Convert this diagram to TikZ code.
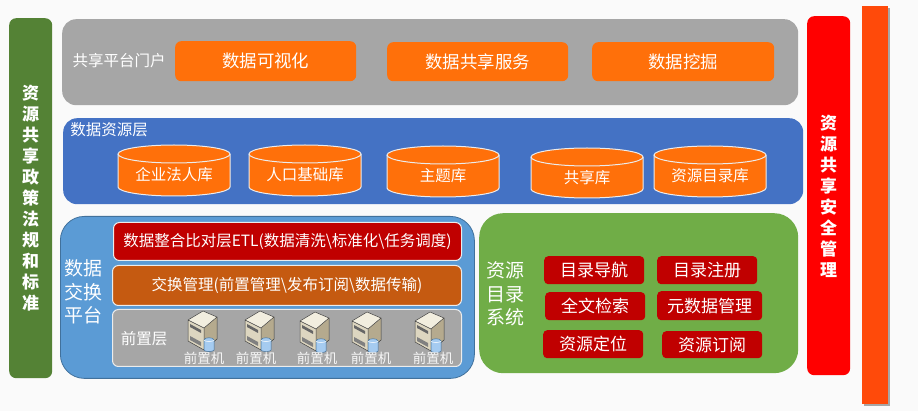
\documentclass[tikz,border=0pt]{standalone}
\usepackage{fontspec}
\setmainfont{Noto Sans CJK SC}
\usetikzlibrary{calc}
\definecolor{bgc}{HTML}{FAFAFA}
\definecolor{sidegreen}{HTML}{548235}
\definecolor{panelgray}{HTML}{A6A6A6}
\definecolor{btnorange}{HTML}{FF700A}
\definecolor{layerblue}{HTML}{4472C4}
\definecolor{lightblue}{HTML}{5B9BD5}
\definecolor{edgeblue}{HTML}{41719C}
\definecolor{darkred}{HTML}{C00000}
\definecolor{rust}{HTML}{C55A11}
\definecolor{leafgreen}{HTML}{70AD47}
\definecolor{barorange}{HTML}{FF4A0A}
\definecolor{srvfront}{HTML}{DDD6C0}
\definecolor{srvside}{HTML}{B5AA8E}
\definecolor{srvtop}{HTML}{F2EEDF}
\definecolor{dbblue}{HTML}{A5CBF0}
\tikzset{
  x=1pt,y=-1pt,
  txt/.style={text=white,inner sep=0pt,align=center},
  basebox/.style={inner sep=0pt,text=white,align=center,anchor=north west},
  panel/.style={basebox,rounded corners=14pt,fill=panelgray},
  orangebtn/.style={basebox,rounded corners=6pt,fill=btnorange,font=\fontsize{17.4}{20}\selectfont},
  redbtn/.style={basebox,rounded corners=4pt,fill=darkred,font=\fontsize{17}{20}\selectfont},
  stripe/.style={basebox,rounded corners=6pt,draw=white!85!gray,line width=1pt,font=\fontsize{15.5}{18}\selectfont},
  cylbody/.style={fill=btnorange,draw=white!85!gray,line width=1pt},
  sideletter/.style={txt,font=\bfseries\fontsize{17}{21}\selectfont},
}
% name, x0, y0, x1, y1, style, text
\newcommand{\bx}[7]{\node[#6,minimum width={(#4-#2)*1pt},minimum height={(#5-#3)*1pt}] (#1) at (#2,#3) {#7};}
% half ellipses from (x0,y) to (x1,y), bulging by +-9 with half-width 56
\newcommand{\halfup}[3]{.. controls (#1,#3-5) and (#1+25,#3-9) .. (#1+56,#3-9) .. controls (#2-25,#3-9) and (#2,#3-5) .. (#2,#3)}
\newcommand{\halfdn}[3]{.. controls (#1,#3+5) and (#1-25,#3+9) .. (#1-56,#3+9) .. controls (#2+25,#3+9) and (#2,#3+5) .. (#2,#3)}
\newcommand{\halfdnb}[3]{.. controls (#1,#3+5) and (#1+25,#3+9) .. (#1+56,#3+9) .. controls (#2-25,#3+9) and (#2,#3+5) .. (#2,#3)}
% name, x0, y0, x1, y1, text
\newcommand{\dbcyl}[6]{%
  \path[cylbody] (#2,#3+9) \halfup{#2}{#4}{#3+9} -- (#4,#5-9) \halfdn{#4}{#2}{#5-9} -- cycle;
  \path[cylbody,fill=none] (#2,#3+9) \halfdnb{#2}{#4}{#3+9};
  \node[txt,font=\fontsize{15.5}{18}\selectfont] (#1) at ({(#2+#4)/2},#3+30) {#6};}
% name, left, top, label x, label text
\newcommand{\srv}[5]{%
  \begin{scope}[shift={(#2,#3)}]
    \fill[srvside] (15,17) -- (29,6) -- (29,28) -- (16,39) -- cycle;
    \fill[srvfront] (0,9) -- (16,17) -- (16,39) -- (0,30) -- cycle;
    \fill[srvtop] (0,9) -- (15,0) -- (29,6) -- (16,17) -- cycle;
    \draw[black!75,line width=.5pt,line join=round] (0,9) -- (15,0) -- (29,6) -- (29,28) -- (16,39) -- (0,30) -- cycle (0,9) -- (16,17) -- (29,6) (16,17) -- (16,39);
    \fill[black!60] (2,13) -- (13,19) -- (13,22) -- (2,16) -- cycle;
    \fill[black!50] (2,25) -- (13,31) -- (13,35) -- (2,29) -- cycle;
    \fill[dbblue,draw=edgeblue,line width=.5pt] (16,29) -- (16,39) .. controls (16,41) and (26,41) .. (26,39) -- (26,29) .. controls (26,26) and (16,26) .. (16,29) -- cycle;
    \draw[white,line width=.5pt] (16,29) .. controls (16,31) and (26,31) .. (26,29);
  \end{scope}
  \node[txt,font=\fontsize{13.5}{15}\selectfont,opacity=.9] (#1) at (#4,358) {#5};}
\begin{document}
\begin{tikzpicture}
\fill[bgc] (0,0) rectangle (918,411);
\useasboundingbox (0,0) rectangle (918,411);

% side bars
\bx{leftbar}{9}{18}{52}{378}{basebox,rounded corners=7pt,fill=sidegreen}{}
\node[sideletter] (lefttext) at (30.5,198) {资\\源\\共\\享\\政\\策\\法\\规\\和\\标\\准};
\bx{rightbar}{807}{16}{850}{375}{basebox,rounded corners=7pt,fill=red}{}
\node[sideletter] (righttext) at (828.5,196) {资\\源\\共\\享\\安\\全\\管\\理};
\fill[black!35] (864,8) rectangle (890,406);
\bx{farbar}{862}{6}{888}{404}{basebox,fill=barorange}{}

% portal
\bx{portal}{62}{19}{798}{105}{panel}{}
\node[txt,font=\fontsize{15.5}{18}\selectfont] (portallabel) at (119,61) {共享平台门户};
\bx{viz}{175}{41}{356}{81}{orangebtn}{数据可视化}
\bx{svc}{387}{42}{568}{81}{orangebtn}{数据共享服务}
\bx{mine}{592}{42}{774}{81}{orangebtn}{数据挖掘}

% data resource layer
\bx{reslayer}{63}{118}{803}{204}{panel,fill=layerblue}{}
\node[txt,font=\fontsize{15.5}{18}\selectfont] (reslabel) at (109,130) {数据资源层};
\dbcyl{c1}{118}{145}{230}{196}{企业法人库}
\dbcyl{c2}{249}{145}{361}{196}{人口基础库}
\dbcyl{c3}{387}{146}{499}{197}{主题库}
\dbcyl{c4}{531}{148}{643}{198}{共享库}
\dbcyl{c5}{654}{146}{766}{197}{资源目录库}

% exchange platform
\bx{exch}{60}{216}{474}{378}{basebox,rounded corners=24pt,fill=lightblue,draw=edgeblue,line width=.8pt}{}
\node[txt,font=\fontsize{19}{23.5}\selectfont] (exchlabel) at (83,292) {数据\\交换\\平台};
\bx{etl}{113}{222}{461}{260}{stripe,fill=darkred}{数据整合比对层ETL(数据清洗\textbackslash 标准化\textbackslash 任务调度)}
\bx{mgmt}{112}{265}{461}{305}{stripe,fill=rust}{交换管理(前置管理\textbackslash 发布订阅\textbackslash 数据传输)}
\bx{front}{112}{309}{461}{366}{stripe,fill=panelgray}{}
\node[txt,font=\fontsize{15.5}{18}\selectfont] (frontlabel) at (144,339) {前置层};
\srv{s1}{188}{311}{204}{前置机}
\srv{s2}{245}{311}{256}{前置机}
\srv{s3}{300}{312}{317}{前置机}
\srv{s4}{352}{312}{371}{前置机}
\srv{s5}{415}{312}{433}{前置机}

% catalogue system
\bx{cat}{479}{213}{798}{373}{basebox,rounded corners=24pt,fill=leafgreen}{}
\node[txt,font=\fontsize{19}{23.5}\selectfont] (catlabel) at (505,294) {资源\\目录\\系统};
\bx{b1}{544}{256}{644}{284}{redbtn}{目录导航}
\bx{b2}{657}{256}{757}{284}{redbtn}{目录注册}
\bx{b3}{545}{292}{645}{320}{redbtn}{全文检索}
\bx{b4}{657}{291}{762}{320}{redbtn}{元数据管理}
\bx{b5}{543}{330}{643}{358}{redbtn}{资源定位}
\bx{b6}{662}{331}{762}{358}{redbtn}{资源订阅}
\end{tikzpicture}
\end{document}
